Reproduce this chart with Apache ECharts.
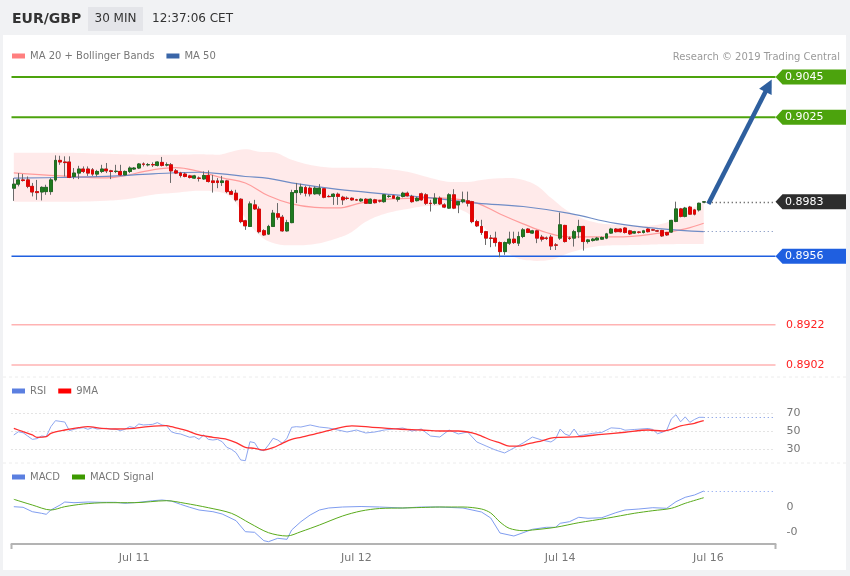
<!DOCTYPE html>
<html><head><meta charset="utf-8">
<script src="https://cdn.jsdelivr.net/npm/echarts@6/dist/echarts.min.js"></script>
<style>html,body{margin:0;padding:0;background:#f1f2f4;}#c{width:850px;height:576px;}</style>
</head><body><div id="c"></div>
<script>
// ---------- DATA ----------
// candles: [open, close, low, high], one per 30-min slot
const ohlc = [
[0.89898,0.89918,0.89835,0.89948],[0.89918,0.89939,0.89907,0.89973],[0.89939,0.89936,0.89931,0.89968],[0.89939,0.89907,0.89898,0.89956],[0.89907,0.89879,0.89857,0.89924],
[0.89881,0.89876,0.8984,0.89939],[0.89879,0.89902,0.89837,0.89907],[0.89881,0.89902,0.89865,0.89915],[0.89881,0.89939,0.89865,0.89948],[0.89939,0.90036,0.89931,0.90061],
[0.90036,0.90028,0.90014,0.90059],[0.90028,0.90025,0.89956,0.90056],[0.90028,0.89951,0.89948,0.90056],[0.89956,0.89973,0.89943,0.89998],[0.89973,0.89993,0.89943,0.90009],
[0.89993,0.89981,0.89973,0.90006],[0.89993,0.89973,0.89959,0.90006],[0.89989,0.89968,0.89959,0.89998],[0.89968,0.89981,0.89956,0.89989],[0.89981,0.89993,0.89973,0.90014],
[0.89993,0.89984,0.89973,0.90023],[0.89984,0.89981,0.89943,0.89989],[0.89981,0.89982,0.89973,0.90014],[0.89981,0.89964,0.89959,0.90014],[0.89964,0.89981,0.89961,0.89986],
[0.89981,0.89998,0.89973,0.90006],[0.89993,0.89998,0.89989,0.90003],[0.89998,0.90018,0.89993,0.90023],[0.90018,0.90017,0.90006,0.90026],[0.90014,0.90015,0.90006,0.90023],
[0.90015,0.90014,0.90003,0.90026],[0.90011,0.90028,0.90006,0.90031],[0.90026,0.90011,0.90006,0.90053],[0.90013,0.90014,0.90006,0.90026],[0.90014,0.89984,0.89924,0.90023],
[0.89984,0.89973,0.89968,0.89993],[0.89973,0.89961,0.89951,0.89979],[0.89968,0.89956,0.89952,0.89976],[0.89959,0.89951,0.89946,0.89964],[0.89948,0.89959,0.89944,0.89964],
[0.89948,0.89947,0.89931,0.89956],[0.89944,0.89961,0.89939,0.89981],[0.89961,0.89931,0.89926,0.89986],[0.89934,0.89926,0.89876,0.89964],[0.89934,0.89926,0.89898,0.89948],
[0.89926,0.89934,0.89909,0.89959],[0.89934,0.89881,0.89873,0.89939],[0.89881,0.89868,0.89865,0.8989],[0.89873,0.8984,0.89832,0.8989],[0.89843,0.89732,0.89724,0.89848],
[0.89736,0.89711,0.89691,0.89741],[0.89708,0.8982,0.89705,0.89832],[0.89815,0.89795,0.8979,0.8984],[0.89794,0.89682,0.89674,0.89807],[0.89687,0.89666,0.89661,0.89694],
[0.8967,0.89708,0.89666,0.89716],[0.89708,0.89774,0.89705,0.8979],[0.89771,0.89754,0.89741,0.89824],[0.89754,0.89686,0.89682,0.89765],[0.89686,0.89727,0.89682,0.89741],
[0.89727,0.89876,0.89724,0.8989],[0.89876,0.89886,0.89824,0.89924],[0.89876,0.89903,0.89865,0.8992],[0.89901,0.89873,0.89857,0.8991],[0.89898,0.8987,0.89857,0.89907],
[0.8987,0.89898,0.89865,0.89907],[0.8987,0.89898,0.8986,0.89918],[0.89895,0.89853,0.89848,0.89898],[0.89857,0.89856,0.89853,0.89865],[0.89857,0.89868,0.89815,0.89873],
[0.89868,0.89857,0.89815,0.89876],[0.89853,0.8984,0.89815,0.8986],[0.89848,0.89847,0.8984,0.89857],[0.89848,0.8984,0.89835,0.89852],[0.8984,0.89839,0.89835,0.89845],
[0.89835,0.89843,0.8983,0.89848],[0.89843,0.89823,0.8982,0.89848],[0.89823,0.89843,0.8982,0.89847],[0.8984,0.89826,0.89822,0.89845],[0.89835,0.89834,0.89827,0.8984],
[0.89831,0.89865,0.89826,0.89868],[0.89857,0.89858,0.8985,0.89865],[0.8986,0.89848,0.89845,0.89865],[0.89843,0.89853,0.89831,0.8986],[0.89857,0.89873,0.89852,0.8988],
[0.89873,0.8986,0.89857,0.89881],[0.89857,0.89831,0.89826,0.89865],[0.89836,0.89848,0.89832,0.89855],[0.8987,0.8984,0.89836,0.89876],[0.89865,0.89823,0.89815,0.89873],
[0.89823,0.89822,0.89782,0.8984],[0.89823,0.89848,0.89815,0.89873],[0.89848,0.8982,0.89815,0.89857],[0.89815,0.89804,0.89799,0.89823],[0.89799,0.89865,0.89795,0.89873],
[0.89865,0.89799,0.89794,0.89893],[0.89815,0.89831,0.89774,0.89835],[0.89831,0.8984,0.89823,0.89881],[0.89835,0.89823,0.89807,0.89881],[0.89831,0.89732,0.89724,0.89835],
[0.89732,0.89711,0.89705,0.89741],[0.89708,0.89678,0.89666,0.89741],[0.89682,0.8965,0.89616,0.89686],[0.8965,0.89649,0.89605,0.89666],[0.8965,0.89628,0.89608,0.89682],
[0.89628,0.89583,0.89555,0.89633],[0.89583,0.89628,0.89567,0.89633],[0.89625,0.89645,0.89616,0.89682],[0.89645,0.89628,0.89621,0.89682],[0.89625,0.89658,0.89611,0.89682],
[0.89658,0.89691,0.8965,0.897],[0.89695,0.89678,0.89675,0.897],[0.89675,0.89686,0.89671,0.89691],[0.89686,0.8965,0.89625,0.89691],[0.89655,0.89645,0.89633,0.89666],
[0.8965,0.89649,0.89641,0.89658],[0.89655,0.89611,0.89591,0.89666],[0.89616,0.89615,0.89591,0.89625],[0.8965,0.89716,0.89641,0.89777],[0.89713,0.89633,0.89628,0.89716],
[0.8965,0.89649,0.89641,0.89658],[0.8965,0.89682,0.89608,0.89691],[0.89682,0.89708,0.8965,0.89741],[0.89708,0.89633,0.89588,0.89711],[0.89633,0.89641,0.89623,0.89646],
[0.89638,0.89645,0.89633,0.89651],[0.89641,0.8965,0.89638,0.89656],[0.89645,0.89653,0.89641,0.89658],[0.8965,0.89671,0.89645,0.89676],[0.89675,0.89695,0.89671,0.89701],
[0.89695,0.89682,0.89678,0.897],[0.89695,0.89682,0.89678,0.89699],[0.897,0.89678,0.89673,0.89704],[0.89686,0.89671,0.89666,0.89691],[0.89675,0.89682,0.89671,0.89686],
[0.8968,0.89679,0.89673,0.89684],[0.89678,0.89686,0.89673,0.89691],[0.89695,0.89682,0.89678,0.89699],[0.89691,0.8969,0.89686,0.89696],[0.89686,0.89685,0.89681,0.89691],
[0.89688,0.89661,0.89656,0.89691],[0.89678,0.89666,0.89661,0.89681],[0.8968,0.89738,0.89676,0.89741],[0.89733,0.89795,0.89729,0.89831],[0.89795,0.89758,0.89753,0.898],
[0.89758,0.89799,0.89753,0.89805],[0.89804,0.89769,0.89765,0.8981],[0.8979,0.89769,0.89763,0.89795],[0.8979,0.89823,0.89782,0.89826],[0.89829,0.8983,0.89825,0.89833]
];
// Bollinger band edges sampled at slot indices
const bbIdx   = [0,10,20,25,30,35,40,44,47,50,53,56,60,65,70,73,76,80,85,90,95,98,101,104,107,110,113,116,120,125,130,135,140,145,149];
const bbUpper = [0.90074,0.90074,0.90069,0.90066,0.90064,0.90064,0.90066,0.90064,0.90079,0.90091,0.90079,0.90076,0.90039,0.90009,0.89999,0.89999,0.89999,0.89994,0.89979,0.89949,0.89929,0.89929,0.89939,0.89946,0.89949,0.89939,0.8991,0.8985,0.8978,0.89731,0.89716,0.89711,0.89721,0.8978,0.89825];
const bbLower = [0.8983,0.8983,0.89835,0.89845,0.89865,0.89875,0.89885,0.8988,0.8985,0.8975,0.89666,0.89626,0.89614,0.89621,0.89651,0.89681,0.89731,0.8977,0.89795,0.8981,0.898,0.89775,0.89716,0.89641,0.89572,0.89542,0.89537,0.89542,0.89577,0.89606,0.89614,0.89616,0.89619,0.89621,0.89621];
// moving averages [slot, value]
const ma20 = [[0,0.89974],[10,0.89959],[20,0.89949],[30,0.89989],[35,0.9],[40,0.89981],[45,0.89949],[50,0.89924],[55,0.8986],[60,0.8982],[65,0.89803],[70,0.898],[75,0.89825],[80,0.89842],[85,0.89847],[90,0.8985],[95,0.89845],[100,0.89824],[105,0.8977],[110,0.89721],[115,0.89678],[120,0.89656],[130,0.89656],[140,0.89676],[145,0.89696],[149,0.89724]];
const ma50 = [[0,0.89948],[10,0.89951],[20,0.89957],[30,0.89969],[40,0.89977],[45,0.89969],[50,0.89956],[55,0.89947],[60,0.89924],[70,0.89892],[80,0.8987],[90,0.8985],[100,0.89824],[110,0.89807],[120,0.89773],[130,0.89723],[140,0.89696],[149,0.89682]];
// RSI and its 9-period MA [slot, value]
const rsi = [[0,45.6],[1,49.2],[2,48.1],[3,44.4],[4,40.7],[5,41.5],[6,44.4],[7,43.7],[8,54.8],[9,61.5],[10,60.7],[11,60],[12,50.4],[13,51.9],[14,53],[15,53.7],[16,51.9],[17,53.7],[18,52.2],[20,53],[21,51.9],[22,52.2],[23,50.4],[24,51.9],[25,54.8],[26,53.7],[27,57.8],[28,56.7],[29,57],[30,57.4],[31,59.3],[32,56.7],[33,55.9],[34,49.2],[35,47.4],[36,46.7],[38,43],[39,43.7],[40,40.7],[41,45.6],[42,40.7],[43,40],[44,40.7],[45,38.1],[46,31.9],[47,29.6],[48,25.9],[49,17.8],[50,17],[51,38.1],[52,37],[53,28.9],[54,28.1],[55,34.4],[56,41.9],[57,40],[58,36.3],[59,42],[60,54.1],[61,54.8],[62,54.4],[64,56.7],[66,54.4],[68,53.3],[70,51.1],[72,48.9],[74,51.1],[76,47.8],[78,48.9],[80,51.1],[82,52.2],[84,53.3],[86,50],[88,52.2],[90,44.4],[92,43.3],[94,51.1],[96,46.7],[98,48.9],[100,37.8],[102,33.3],[104,28.9],[106,25.6],[108,31.1],[110,36.7],[112,43.3],[114,40],[116,37.8],[117,41.1],[118,52.2],[119,46.7],[120,44.8],[121,52.2],[122,44.8],[123,45.6],[125,47.4],[127,48.5],[129,53.5],[131,52.8],[132,50.9],[134,51.7],[137,52.8],[138,51.7],[139,47],[140,48.5],[141,50.9],[142,63.4],[143,68.1],[144,60.2],[145,65.7],[146,59.6],[147,62.8],[148,65.2],[149,65.2]];
const rsiMA = [[0,53],[2,49.2],[4,45.6],[5,43],[7,43.7],[8,47.4],[11,51.1],[14,53.7],[16,54.8],[19,53],[22,52.2],[26,53],[29,54.8],[33,55.9],[34,54.8],[37,51.1],[40,45.6],[43,43],[46,40.7],[48,37],[50,31.9],[52,30.8],[54,28.9],[56,31.5],[58,36.3],[60,40.7],[62,43],[66,47.8],[70,53.3],[73,55.6],[77,54.4],[83,52.2],[88,51.1],[92,50],[96,50],[99,47.8],[101,44.4],[103,40],[105,36.7],[107,33.3],[109,33.3],[111,35.6],[114,38.9],[116,42.2],[118,43],[122,43.7],[127,46.3],[132,48.6],[137,51.1],[140,50],[142,51.9],[144,55.6],[147,58.6],[149,61.4]];
// MACD and signal [slot, value]
const macd = [[0,0],[2,-0.000012],[4,-0.0001],[6,-0.000132],[7,-0.000152],[8,-0.000066],[10,0.000034],[11,0.000094],[13,0.00008],[16,0.000094],[19,0.000088],[22,0.000088],[24,0.000068],[27,0.000088],[30,0.00012],[32,0.000134],[34,0.000114],[36,0.000048],[38,-0.000012],[40,-0.000066],[43,-0.0001],[45,-0.000146],[48,-0.00028],[50,-0.0005],[52,-0.000512],[54,-0.00068],[55,-0.0007],[57,-0.000632],[59,-0.000652],[60,-0.000466],[62,-0.0003],[64,-0.000166],[66,-0.000066],[68,-0.000026],[71,-0.000006],[75,0.000004],[79,-0.000006],[84,-0.000026],[88,-0.000006],[92,-0.000006],[97,-0.000026],[101,-0.000106],[103,-0.000226],[105,-0.000526],[108,-0.000586],[110,-0.00052],[112,-0.000452],[115,-0.000412],[117,-0.000412],[118,-0.000332],[120,-0.0003],[122,-0.000212],[124,-0.000232],[127,-0.00022],[130,-0.00012],[132,-0.000066],[135,-0.000046],[138,-0.00002],[141,-0.000032],[143,0.0001],[145,0.000188],[147,0.000234],[149,0.000314]];
const macdSignal = [[0,0.000148],[4,0.000034],[8,-0.000066],[11,0],[15,0.000054],[20,0.00008],[26,0.00008],[33,0.00012],[37,0.000068],[42,-0.00002],[47,-0.000132],[51,-0.000332],[55,-0.00052],[59,-0.000586],[62,-0.0005],[66,-0.000366],[71,-0.000186],[75,-0.000086],[79,-0.000036],[84,-0.000026],[88,-0.000016],[92,-0.000006],[97,-0.000006],[101,-0.000046],[103,-0.000126],[105,-0.000306],[107,-0.000432],[110,-0.00048],[112,-0.000466],[117,-0.000412],[122,-0.00032],[128,-0.000232],[134,-0.000132],[138,-0.00008],[142,-0.000032],[145,0.000068],[149,0.00018]];
// date tick labels and the slots they sit on
const dateTicks = ['Jul 11','Jul 12','Jul 14','Jul 16'];
const dateTickSlots = [26,74,118,150];
const slotCount = 165;
// price levels
const resistances = [0.9045, 0.9025];
const pivot = 0.8956;
const supports = [0.8922, 0.8902];
const lastPrice = 0.8983;
const arrowTarget = 0.90407;

// ---------- LAYOUT ----------
const FONT = '"DejaVu Sans", sans-serif';
const gL = 11.5, gW = 764, gR = 850 - gL - gW;
const GREEN = '#4ca30d', BLUE = '#1f5fe0', PINK = '#ffb3b3', RED = '#ff2020', DARK = '#2d2d2d';
const last = ohlc.length - 1;
const cats = Array.from({length: slotCount}, (_, i) => String(i));
const bodies = ohlc.map(d => [d[0], d[1], Math.min(d[0], d[1]), Math.max(d[0], d[1])]);
const bbBase = bbIdx.map((x, k) => [x, bbLower[k]]);
const bbWidth = bbIdx.map((x, k) => [x, bbUpper[k] - bbLower[k]]);
const lastOf = a => a[a.length - 1][1];

const xAx = (gi, show) => ({
  type: 'category', gridIndex: gi, data: cats, boundaryGap: true,
  axisLine: {show: show, onZero: false, lineStyle: {color: '#b3b3b3', width: 2}},
  axisTick: {show: false},
  axisLabel: show ? {
    show: true, color: '#777', fontSize: 11, fontFamily: FONT, margin: 8,
    interval: (i) => dateTickSlots.indexOf(i) >= 0,
    formatter: (v, i) => { const k = dateTickSlots.indexOf(i); return k >= 0 ? dateTicks[k] : ''; }
  } : {show: false},
  splitLine: {show: false}
});

const legendText = {color: '#777', fontSize: 10, fontFamily: FONT};
const option = {
  backgroundColor: '#f1f2f4',
  animation: false,
  textStyle: {fontFamily: FONT},
  grid: [
    {left: gL, right: gR, top: 77, height: 288},
    {left: gL, right: gR, top: 413, height: 36},
    {left: gL, right: gR, top: 476.7, height: 67.5}
  ],
  legend: [
    {left: 12, top: 51, padding: 0, icon: 'rect', itemWidth: 13, itemHeight: 5, itemGap: 12, selectedMode: false, textStyle: legendText,
     data: [{name: 'MA 20 + Bollinger Bands', itemStyle: {color: '#ff7f7f'}}, {name: 'MA 50', itemStyle: {color: '#3a66a8'}}]},
    {left: 12, top: 386, padding: 0, icon: 'rect', itemWidth: 13, itemHeight: 5, itemGap: 12, selectedMode: false, textStyle: legendText,
     data: [{name: 'RSI', itemStyle: {color: '#5b7fe0'}}, {name: '9MA', itemStyle: {color: '#ff0000'}}]},
    {left: 12, top: 472, padding: 0, icon: 'rect', itemWidth: 13, itemHeight: 5, itemGap: 12, selectedMode: false, textStyle: legendText,
     data: [{name: 'MACD', itemStyle: {color: '#5b7fe0'}}, {name: 'MACD Signal', itemStyle: {color: '#3d9a00'}}]}
  ],
  xAxis: [xAx(0, false), xAx(1, false), xAx(2, true)],
  yAxis: [
    {type: 'value', gridIndex: 0, min: 0.8902, max: 0.9045, show: false, splitLine: {show: false}},
    {type: 'value', gridIndex: 1, min: 30, max: 70, interval: 20, position: 'right',
     axisLine: {show: false}, axisTick: {show: false},
     axisLabel: {color: '#777', fontSize: 11, fontFamily: FONT, margin: 11},
     splitLine: {show: true, lineStyle: {color: '#c8c8c8', type: [1, 3], width: 1}}},
    {type: 'value', gridIndex: 2, min: -0.00075, max: 0.0006, position: 'right',
     axisLine: {show: false}, axisTick: {show: false}, splitLine: {show: false},
     axisLabel: {color: '#777', fontSize: 11, fontFamily: FONT, margin: 11, customValues: [-0.0005, 0], formatter: v => Number(v).toFixed(0)}}
  ],
  series: [
    {name: 'bbLow', type: 'line', xAxisIndex: 0, yAxisIndex: 0, stack: 'bb', data: bbBase, smooth: 0.4, symbol: 'none', lineStyle: {opacity: 0}, silent: true, z: 1},
    {name: 'bbBand', type: 'line', xAxisIndex: 0, yAxisIndex: 0, stack: 'bb', data: bbWidth, smooth: 0.4, symbol: 'none', lineStyle: {opacity: 0},
     areaStyle: {color: 'rgba(255,190,190,0.45)'}, silent: true, z: 1},
    {name: 'MA 20 + Bollinger Bands', type: 'line', xAxisIndex: 0, yAxisIndex: 0, data: ma20, smooth: 0.4, symbol: 'none',
     lineStyle: {color: '#ff9c9c', width: 1.2}, itemStyle: {color: '#ff7f7f'}, z: 2},
    {name: 'MA 50', type: 'line', xAxisIndex: 0, yAxisIndex: 0, data: ma50, smooth: 0.4, symbol: 'none',
     lineStyle: {color: '#6f8cc6', width: 1.2}, itemStyle: {color: '#3a66a8'}, z: 2,
     markLine: {silent: true, symbol: 'none', label: {show: false}, animation: false,
       lineStyle: {color: '#6f86b8', type: [1, 3], width: 1.2},
       data: [[{coord: [last, lastOf(ma50)]}, {coord: [slotCount - 1, lastOf(ma50)]}]]}},
    {name: 'wicks', type: 'candlestick', xAxisIndex: 0, yAxisIndex: 0, data: ohlc, barWidth: 3.4,
     itemStyle: {color: '#6a6a6a', color0: '#6a6a6a', borderColor: '#6a6a6a', borderColor0: '#6a6a6a', borderWidth: 1}, z: 3},
    {name: 'bodies', type: 'candlestick', xAxisIndex: 0, yAxisIndex: 0, data: bodies, barWidth: 3.4,
     itemStyle: {color: '#1f7a1f', color0: '#e60000', borderColor: '#1a6a1a', borderColor0: '#e60000', borderWidth: 0.8}, z: 4,
     markLine: {silent: true, symbol: 'none', label: {show: false}, animation: false,
       data: [
         [{coord: [last, lastPrice], lineStyle: {color: '#444', width: 1.3, type: [1, 3]}}, {coord: [slotCount - 1, lastPrice]}],
         [{coord: [last + 1, 0.8982], symbol: 'none', lineStyle: {color: '#2e5f9e', width: 4.5, type: 'solid'}},
          {coord: [slotCount - 2, arrowTarget], symbol: 'triangle', symbolSize: [14, 14]}]
       ]}},
    {name: 'RSI', type: 'line', xAxisIndex: 1, yAxisIndex: 1, data: rsi, symbol: 'none', clip: false,
     lineStyle: {color: '#8ea7f0', width: 1}, itemStyle: {color: '#5b7fe0'}, z: 3,
     markLine: {silent: true, symbol: 'none', label: {show: false}, animation: false,
       lineStyle: {color: '#6f8ee0', type: [1, 3], width: 1.2},
       data: [[{coord: [last, lastOf(rsi)]}, {coord: [slotCount - 1, lastOf(rsi)]}]]}},
    {name: '9MA', type: 'line', xAxisIndex: 1, yAxisIndex: 1, data: rsiMA, symbol: 'none', smooth: 0.3, clip: false,
     lineStyle: {color: '#ff3030', width: 1.3}, itemStyle: {color: '#ff0000'}, z: 4},
    {name: 'MACD', type: 'line', xAxisIndex: 2, yAxisIndex: 2, data: macd, symbol: 'none', clip: false,
     lineStyle: {color: '#7f9df0', width: 1}, itemStyle: {color: '#5b7fe0'}, z: 3,
     markLine: {silent: true, symbol: 'none', label: {show: false}, animation: false,
       lineStyle: {color: '#7f9df0', type: [1, 3], width: 1.2},
       data: [[{coord: [last, lastOf(macd)]}, {coord: [slotCount - 1, lastOf(macd)]}]]}},
    {name: 'MACD Signal', type: 'line', xAxisIndex: 2, yAxisIndex: 2, data: macdSignal, symbol: 'none', smooth: 0.3, clip: false,
     lineStyle: {color: '#5aab1c', width: 1}, itemStyle: {color: '#3d9a00'}, z: 4}
  ]
};

const chart = echarts.init(document.getElementById('c'), null, {renderer: 'canvas'});
chart.setOption(option);

// ---------- decorations (header, level lines, tags) ----------
const txt = (x, y, text, font, fill, align) => ({type: 'text', x: x, y: y, z: 110, silent: true,
  style: {text: text, font: font, fill: fill, align: align || 'left', textAlign: align || 'left', verticalAlign: 'middle', textVerticalAlign: 'middle'}});
const xEnd = gL + gW;
const g = [
  {type: 'rect', shape: {x: 3, y: 35, width: 843, height: 535}, style: {fill: '#ffffff'}, z: -10, silent: true},
  {type: 'rect', shape: {x: 88, y: 7, width: 55, height: 24}, style: {fill: '#e4e5e9'}, z: -9, silent: true},
  txt(12, 19, 'EUR/GBP', 'bold 14px ' + FONT, '#333'),
  txt(115.5, 19, '30 MIN', '12px ' + FONT, '#333', 'center'),
  txt(152, 19, '12:37:06 CET', '12px ' + FONT, '#333'),
  txt(840, 57, 'Research © 2019 Trading Central', '10px ' + FONT, '#9a9a9a', 'right'),
  {type: 'line', shape: {x1: 3, y1: 377, x2: 846, y2: 377}, style: {stroke: '#ececec', lineWidth: 1, lineDash: [3, 3]}, z: -5, silent: true},
  {type: 'line', shape: {x1: 3, y1: 463, x2: 846, y2: 463}, style: {stroke: '#ececec', lineWidth: 1, lineDash: [3, 3]}, z: -5, silent: true},
  {type: 'line', shape: {x1: gL, y1: 544, x2: gL, y2: 549}, style: {stroke: '#b3b3b3', lineWidth: 2}, z: 5, silent: true},
  {type: 'line', shape: {x1: xEnd, y1: 544, x2: xEnd, y2: 549}, style: {stroke: '#b3b3b3', lineWidth: 2}, z: 5, silent: true}
];
const yOf = v => chart.convertToPixel({yAxisIndex: 0}, v);
const level = (v, color, width) => g.push({type: 'line', z: 1, silent: true,
  shape: {x1: gL, y1: yOf(v), x2: xEnd, y2: yOf(v)}, style: {stroke: color, lineWidth: width}});
const tag = (v, color) => {
  const y = yOf(v);
  g.push({type: 'polygon', z: 105, silent: true,
    shape: {points: [[xEnd, y], [xEnd + 7, y - 7.5], [846, y - 7.5], [846, y + 7.5], [xEnd + 7, y + 7.5]]},
    style: {fill: color}});
  g.push(txt(785, y, v.toFixed(4), '11px ' + FONT, '#ffffff'));
};
resistances.forEach(v => { level(v, GREEN, 2); tag(v, GREEN); });
tag(lastPrice, DARK);
level(pivot, BLUE, 1.5); tag(pivot, BLUE);
supports.forEach(v => { level(v, PINK, 1.5); g.push(txt(786, yOf(v), v.toFixed(4), '11px ' + FONT, RED)); });
chart.setOption({graphic: g});
</script>
</body></html>
